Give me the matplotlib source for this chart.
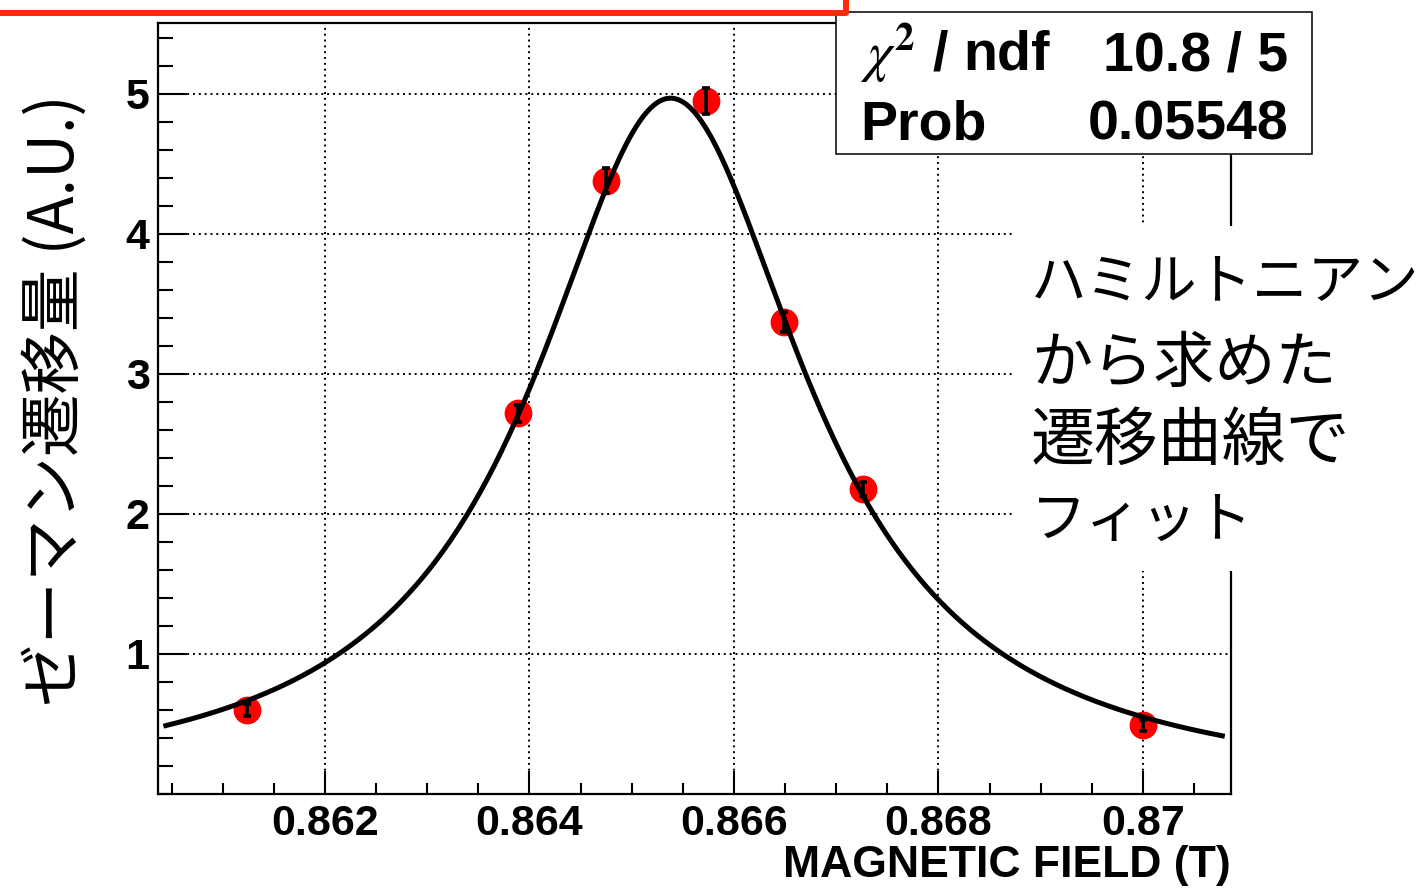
import matplotlib
matplotlib.use("agg")
import matplotlib.pyplot as plt
import numpy as np
from matplotlib.patches import Rectangle
from matplotlib.ticker import FixedLocator, MultipleLocator

WIDTH, HEIGHT = 1427, 888

# measured points (field in T, shift in arbitrary units)
field = [0.86124, 0.86389, 0.86475, 0.86573, 0.86649, 0.86726, 0.87000]
shift = [0.60, 2.72, 4.38, 4.95, 3.37, 2.18, 0.49]
shift_err = [0.04, 0.06, 0.09, 0.09, 0.07, 0.05, 0.04]

# fitted resonance curve parameters
fit_center = 0.86538
fit_width = 0.00163
fit_height = 4.97
fit_range = (0.86042, 0.87080)

x_ticks = [0.862, 0.864, 0.866, 0.868, 0.870]
x_tick_labels = ["0.862", "0.864", "0.866", "0.868", "0.87"]
y_ticks = [1, 2, 3, 4, 5]
y_tick_labels = ["1", "2", "3", "4", "5"]

stat_names = [r"$\chi^{\mathbf{2}}$ / ndf", "Prob"]
stat_values = ["10.8 / 5", "0.05548"]
note_lines = ["ハミルトニアン", "から求めた", "遷移曲線で", "フィット"]
note_sizes = [40, 44, 46, 40]
note_rows = [282, 365, 442, 521]

x_title = "MAGNETIC FIELD (T)"
y_title = "ゼーマン遷移量 (A.U.)"

LATIN = "Liberation Sans"
CJK = ["Noto Sans CJK JP", "DejaVu Sans"]
plt.rcParams["mathtext.fontset"] = "stix"


def fx(px):
    return px / WIDTH


def fy(py):
    return 1 - py / HEIGHT


def lorentz(x):
    return fit_height * fit_width ** 2 / ((x - fit_center) ** 2 + fit_width ** 2)


fig = plt.figure(figsize=(WIDTH / 100, HEIGHT / 100), dpi=100)
ax = fig.add_axes([fx(158), fy(794), fx(1231) - fx(158), fy(23) - fy(794)])

ax.set_xlim(0.860367, 0.870861)
ax.set_ylim(0, 5.507)

ax.grid(True, which="major", color="black", linestyle=(0, (1, 2)), linewidth=1.4)
ax.set_axisbelow(True)

ax.plot(field, shift, "o", color="#ff0000", markersize=20, markeredgewidth=0, zorder=3)
ax.errorbar(field, shift, yerr=shift_err, fmt="none", ecolor="black",
            elinewidth=2.6, capsize=3, capthick=2.6, zorder=4)

curve_x = np.linspace(fit_range[0], fit_range[1], 600)
ax.plot(curve_x, lorentz(curve_x), color="black", linewidth=3.6, zorder=5,
        solid_capstyle="butt")

ax.xaxis.set_major_locator(FixedLocator(x_ticks))
ax.xaxis.set_minor_locator(MultipleLocator(0.0005))
ax.yaxis.set_major_locator(FixedLocator(y_ticks))
ax.yaxis.set_minor_locator(MultipleLocator(0.2))
ax.set_xticklabels(x_tick_labels, fontfamily=LATIN, fontweight="bold", fontsize=31)
ax.set_yticklabels(y_tick_labels, fontfamily=LATIN, fontweight="bold", fontsize=31)

ax.tick_params(axis="both", which="both", direction="in", top=False, right=False,
               width=1.5, color="black")
ax.tick_params(axis="x", which="major", length=16.5, pad=7.5)
ax.tick_params(axis="x", which="minor", length=8)
ax.tick_params(axis="y", which="major", length=21, pad=6)
ax.tick_params(axis="y", which="minor", length=10.5)
for spine in ax.spines.values():
    spine.set_linewidth(1.6)

fig.text(fx(1231), fy(877), x_title, ha="right", va="baseline",
         fontfamily=LATIN, fontweight="bold", fontsize=32)
fig.text(fx(55), fy(400), y_title, rotation=90, ha="center", va="center",
         fontfamily=CJK, fontsize=45)

# statistics box
fig.add_artist(Rectangle((fx(836), fy(154)), fx(1312) - fx(836), fy(12) - fy(154),
                         transform=fig.transFigure, facecolor="white",
                         edgecolor="black", linewidth=1.1, zorder=2))
for row, (name, value) in enumerate(zip(stat_names, stat_values)):
    base = fy(70 + 70 * row)
    fig.text(fx(860), base, name, ha="left", va="baseline", fontfamily=LATIN,
             fontweight="bold", fontsize=40, zorder=3)
    fig.text(fx(1288), base, value, ha="right", va="baseline", fontfamily=LATIN,
             fontweight="bold", fontsize=40, zorder=3)

# red title frame, mostly outside the canvas
fig.add_artist(Rectangle((fx(-20), fy(13.5)), fx(845.5) - fx(-20), 0.2,
                         transform=fig.transFigure, facecolor="white",
                         edgecolor="#ff2a0a", linewidth=4.3, joinstyle="round",
                         zorder=4))

# white note panel covering the right side of the frame
fig.add_artist(Rectangle((fx(1012), fy(571)), fx(1440) - fx(1012), fy(226) - fy(571),
                         transform=fig.transFigure, facecolor="white",
                         edgecolor="none", zorder=2))
for line, size, row in zip(note_lines, note_sizes, note_rows):
    fig.text(fx(1031), fy(row), line, ha="left", va="center",
             fontfamily=CJK, fontsize=size, zorder=3)

fig.savefig("out.png", dpi=100)
